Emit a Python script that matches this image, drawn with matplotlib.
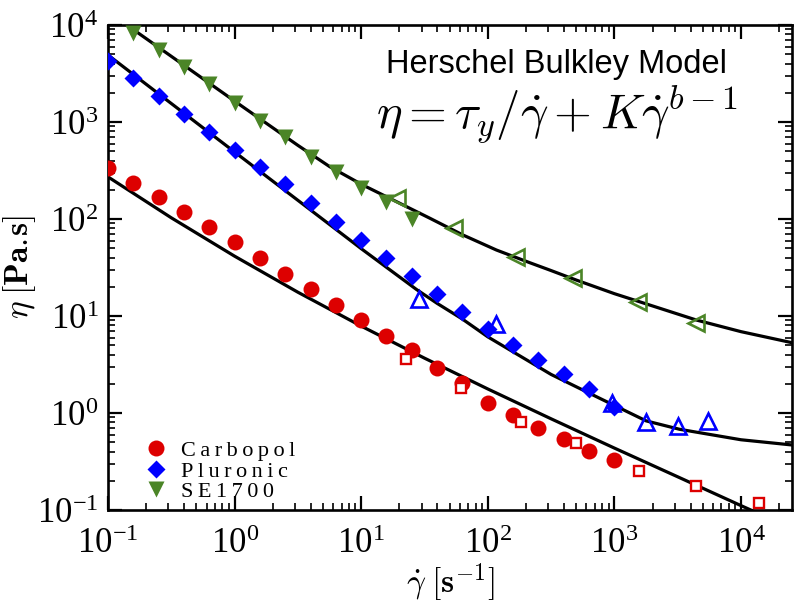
import matplotlib
matplotlib.use('Agg')
import matplotlib.pyplot as plt
from matplotlib.lines import Line2D

plt.rcParams['font.family'] = 'serif'
plt.rcParams['font.serif'] = ['Liberation Serif', 'DejaVu Serif']
plt.rcParams['mathtext.fontset'] = 'stix'

# filled symbols (measured on a common shear-rate grid)
rate = [0.1, 0.158, 0.251, 0.398, 0.631, 1.0, 1.58, 2.51, 3.98, 6.31, 10,
        15.8, 25.1, 39.8, 63.1, 100, 158, 251, 398, 631, 1000]
carbopol = [334, 237, 167, 119, 83, 58, 40, 27, 18.8, 13.0, 9.1, 6.2, 4.46,
            2.89, 2.05, 1.26, 0.95, 0.70, 0.54, 0.41, 0.33]
pluronic = [4254, 2825, 1868, 1200, 783, 514, 341, 230, 145, 94, 61, 40, 25.8,
            16.7, 11.0, 7.3, 5.0, 3.56, 2.55, 1.77, 1.14]
rate_se = [0.158, 0.251, 0.398, 0.631, 1.0, 1.58, 2.51, 3.98, 6.31, 10, 15.8, 25.1]
se1700 = [8210, 5520, 3715, 2450, 1560, 1023, 700, 438, 307, 207, 151, 100]

# open symbols
carb_open_x = [22.5, 61.8, 184, 500, 1560, 4430, 13800]
carb_open_y = [3.57, 1.80, 0.81, 0.49, 0.254, 0.177, 0.119]
plur_open_x = [28.6, 117, 961, 1782, 3180, 5470]
plur_open_y = [14.9, 8.3, 1.26, 0.81, 0.74, 0.83]
se_open_x = [19.2, 53.8, 168, 471, 1535, 4430]
se_open_y = [163, 80, 40.8, 24.5, 14.1, 8.4]

# Herschel-Bulkley fit curves
fit_carb_x = [0.1, 0.316, 1, 3.16, 10, 31.6, 100, 316, 1000, 3162, 10000, 25000]
fit_carb_y = [272, 103, 41.4, 17.6, 7.87, 3.68, 1.77, 0.872, 0.435, 0.220, 0.111, 0.065]
fit_plur_x = [0.1, 0.316, 1, 3.16, 10, 27.3, 39.8, 63, 100, 316, 764, 1780, 3265, 10000, 25400]
fit_plur_y = [4910, 1553, 491, 156, 49.5, 18.8, 13.5, 9.3, 6.1, 2.5, 1.42, 0.83, 0.68, 0.53, 0.468]
fit_se_x = [0.1, 0.141, 0.316, 1, 3.16, 5.65, 10.3, 19, 34.8, 63.7, 117, 214, 308, 499,
            1000, 4430, 10000, 25400]
fit_se_y = [13500, 10000, 4760, 1644, 575, 346, 224, 151, 102, 68.4, 47.9, 35.5, 29.8,
            23.5, 17.0, 9.1, 6.9, 5.3]

red = '#dd0000'
blue = '#0000ff'
green = '#4b8527'

fig = plt.figure(figsize=(7.97, 6.03), dpi=100)
ax = fig.add_axes([0.1355, 0.1542, 0.858, 0.8043])

for fx, fy in [(fit_carb_x, fit_carb_y), (fit_plur_x, fit_plur_y), (fit_se_x, fit_se_y)]:
    ax.plot(fx, fy, color='black', lw=2.3, zorder=2)

ax.plot(rate, carbopol, 'o', color=red, ms=11.5, mec='none', zorder=3)
ax.plot(rate, pluronic, 'D', color=blue, ms=9, mec='none', zorder=3)
ax.plot(rate_se, se1700, 'v', color=green, ms=12, mec='none', zorder=3)

ax.plot(carb_open_x, carb_open_y, 's', mfc='white', mec=red, ms=7.5, mew=1.7, zorder=4)
ax.plot(plur_open_x, plur_open_y, '^', mfc='none', mec=blue, ms=11, mew=1.9, zorder=4)
ax.plot(se_open_x, se_open_y, '<', mfc='none', mec=green, ms=11, mew=1.9, zorder=4)

ax.set_xscale('log')
ax.set_yscale('log')
ax.set_xlim(0.1, 2.52e4)
ax.set_ylim(0.1, 1e4)

for s in ax.spines.values():
    s.set_linewidth(1.9)
ax.tick_params(which='both', direction='in', top=True, right=True)
ax.tick_params(which='major', length=10, width=1.6, labelsize=25)
ax.tick_params(axis='x', which='major', pad=13)
ax.tick_params(axis='y', which='major', pad=7)
ax.tick_params(which='minor', length=5, width=1.2)

ax.set_xlabel(r'$\dot{\gamma}\;[\mathbf{s}^{-1}]$', fontsize=24, math_fontfamily='cm')
ax.set_ylabel(r'$\eta\;[\mathbf{Pa.\!s}]$', fontsize=24, math_fontfamily='cm')
ax.xaxis.set_label_coords(0.5, -0.105)
ax.yaxis.set_label_coords(-0.102, 0.5)

ax.text(0.656, 0.901, 'Herschel Bulkley Model', transform=ax.transAxes,
        ha='center', va='baseline', fontsize=23.5, family='Liberation Sans')
ax.text(0.656, 0.788, r'$\eta = \tau_y/\dot{\gamma} + K\dot{\gamma}^{b-1}$',
        transform=ax.transAxes, ha='center', va='baseline', fontsize=35,
        math_fontfamily='cm')

ts = '\u2009'
handles = [
    Line2D([], [], ls='none', marker='o', color=red, ms=11.5, mec='none'),
    Line2D([], [], ls='none', marker='D', color=blue, ms=9, mec='none'),
    Line2D([], [], ls='none', marker='v', color=green, ms=12, mec='none'),
]
labels = [ts.join('Carbopol'), ts.join('Pluronic'), ts.join('SE1700')]
ax.legend(handles, labels, loc='lower left', bbox_to_anchor=(0.025, -0.025),
          frameon=False, handlelength=1.0, handletextpad=0.6, labelspacing=0.0,
          prop={'family': ['Liberation Serif', 'DejaVu Serif'], 'size': 16})

fig.savefig('out.png', dpi=100)
